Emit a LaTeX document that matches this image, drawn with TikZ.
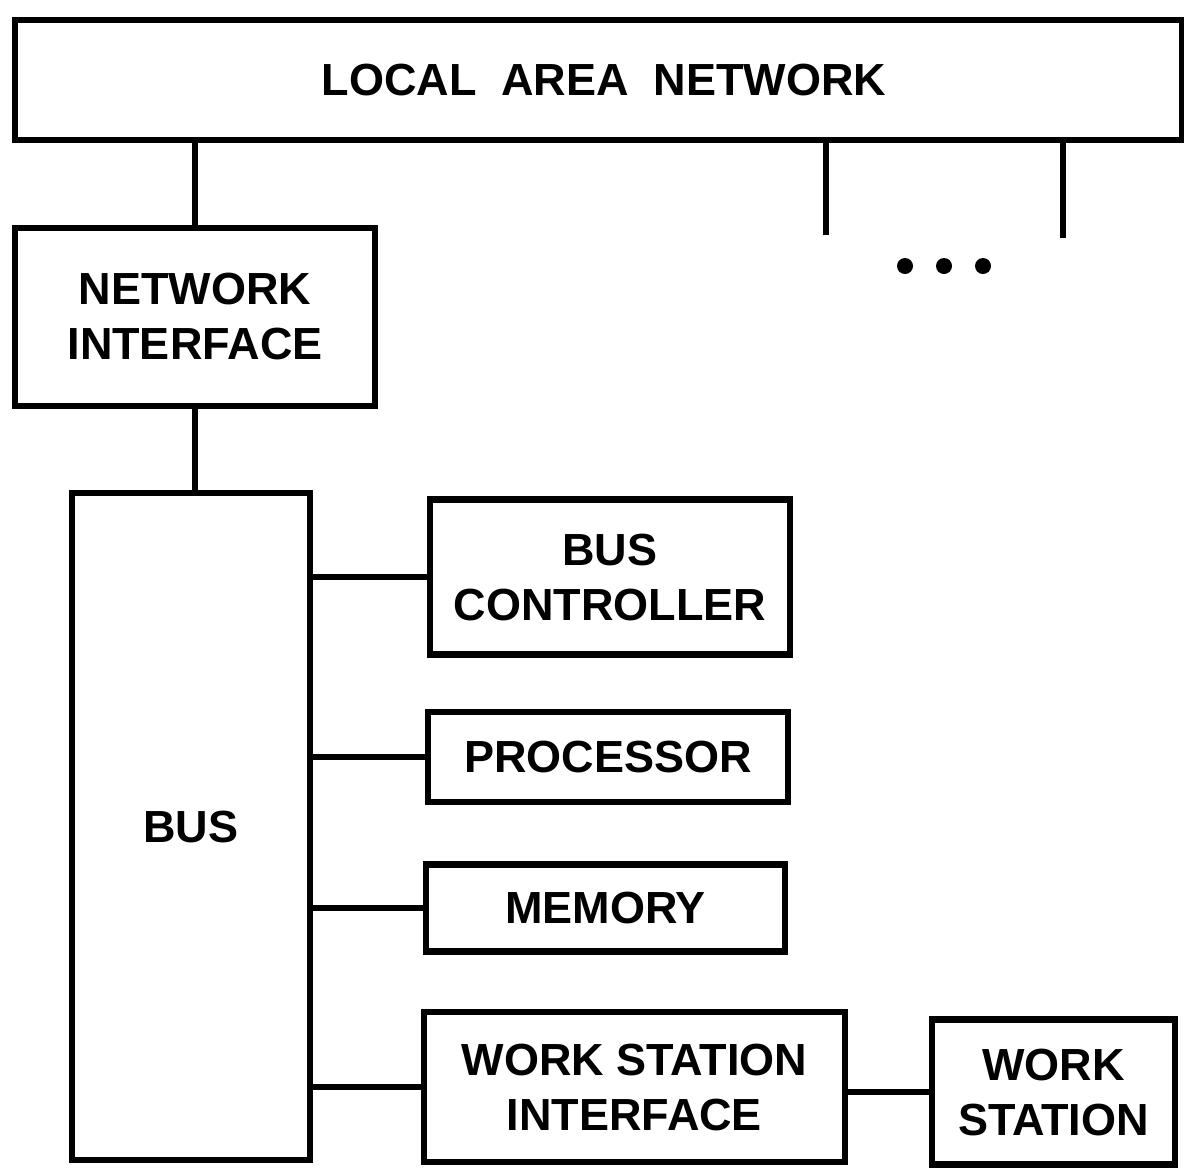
\documentclass[tikz,border=0pt]{standalone}
\usepackage{fontspec}
\setmainfont{Liberation Sans}
\begin{document}
\begin{tikzpicture}[x=1pt,y=-1pt,line width=6.5pt,
  blk/.style={draw,inner sep=0pt,align=center,font=\bfseries\fontsize{45}{55}\selectfont}]
\useasboundingbox (0,0) rectangle (1184,1171);
\node[blk,minimum width=1167pt,minimum height=120pt] (lan) at (598.5,80) {\hspace*{11pt}LOCAL\ \ AREA\ \ NETWORK};
\node[blk,minimum width=360pt,minimum height=178pt] (ni) at (195,317) {NETWORK\\INTERFACE};
\node[blk,minimum width=238pt,minimum height=667pt] (bus) at (191,826.5) {BUS};
\node[blk,minimum width=360pt,minimum height=155pt] (bc) at (610,577) {BUS\\CONTROLLER};
\node[blk,minimum width=360pt,minimum height=90pt] (proc) at (608,757) {PROCESSOR};
\node[blk,minimum width=359pt,minimum height=87pt] (mem) at (605.5,908) {MEMORY};
\node[blk,minimum width=421pt,minimum height=150pt] (wsi) at (634.5,1087) {WORK\ STATION\\INTERFACE};
\node[blk,minimum width=243pt,minimum height=145pt] (ws) at (1053.5,1092) {WORK\\STATION};
\draw (ni.north) -- (ni.north |- lan.south);
\draw (ni.south) -- (ni.south |- bus.north);
\draw (bus.east |- bc.west) -- (bc.west);
\draw (bus.east |- proc.west) -- (proc.west);
\draw (bus.east |- mem.west) -- (mem.west);
\draw (bus.east |- wsi.west) -- (wsi.west);
\draw (wsi.east |- ws.west) -- (ws.west);
\coordinate (s1) at (826,235); \coordinate (s2) at (1063,238);
\draw (s1) -- (s1 |- lan.south); \draw (s2) -- (s2 |- lan.south);
\foreach \x in {905,944,983} \fill (\x,266) circle (8pt);
\end{tikzpicture}
\end{document}
